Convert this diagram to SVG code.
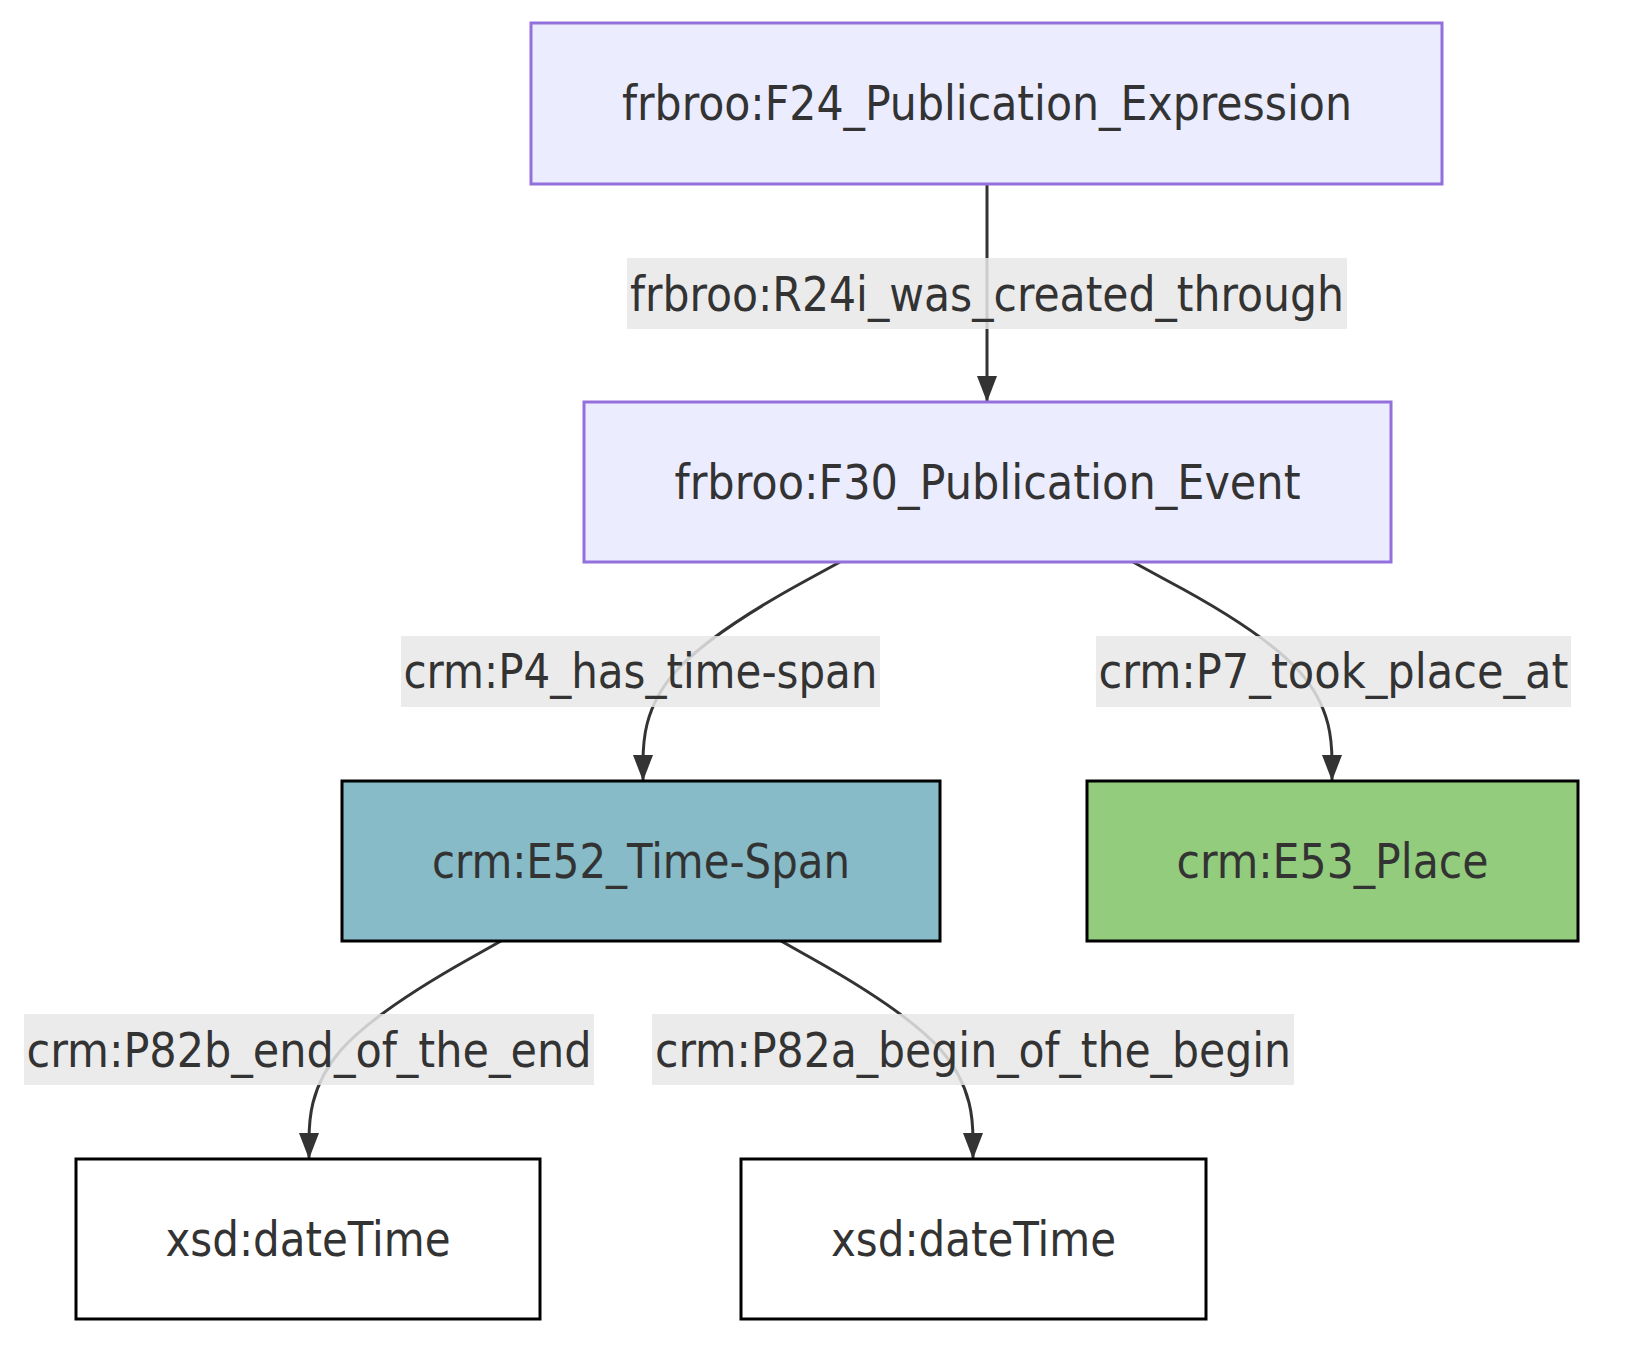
<svg xmlns="http://www.w3.org/2000/svg" width="1626" height="1362" viewBox="0 0 1626 1362">
<style>
text{font-family:"DejaVu Sans","Liberation Sans",sans-serif;font-size:48px;fill:#333333;text-anchor:middle;dominant-baseline:central;font-stretch:condensed}
.n rect{stroke-width:3}
.p rect{fill:#ECECFF;stroke:#9370DB}
.k rect{stroke:#000000}
.e path{fill:none;stroke:#333333;stroke-width:3}
.lb{fill:#e8e8e8;fill-opacity:0.85}
</style>
<defs>
<marker id="ah" markerUnits="userSpaceOnUse" markerWidth="26" markerHeight="20" refX="26" refY="10" orient="auto" viewBox="0 0 26 20">
<path d="M0,0 L26,10 L0,20 z" fill="#333333"/>
</marker>
</defs>
<rect width="1626" height="1362" fill="#ffffff"/>
<g id="edges" class="e">
<path d="M987,184 L987,402" marker-end="url(#ah)"/>
<path d="M840,562 L807,580 C774,598 709,635 676,671 C643,708 643,744 643,763 L643,781" marker-end="url(#ah)"/>
<path d="M1133,562 L1166,580 C1200,598 1266,635 1299,671 C1332,708 1332,744 1332,763 L1332,781" marker-end="url(#ah)"/>
<path d="M501,941 L469,959 C437,977 373,1014 341,1050 C309,1087 309,1123 309,1141 L309,1159" marker-end="url(#ah)"/>
<path d="M781,941 L813,959 C845,977 909,1014 941,1050 C973,1087 973,1123 973,1141 L973,1159" marker-end="url(#ah)"/>
</g>
<g id="edge-labels">
<g id="lbl-r24i"><rect class="lb" x="627" y="258" width="720" height="71"/><text x="987" y="293.5" textLength="714" lengthAdjust="spacingAndGlyphs">frbroo:R24i_was_created_through</text></g>
<g id="lbl-p4"><rect class="lb" x="401" y="636" width="479" height="71"/><text x="640.5" y="671" textLength="474" lengthAdjust="spacingAndGlyphs">crm:P4_has_time-span</text></g>
<g id="lbl-p7"><rect class="lb" x="1096" y="636" width="475" height="71"/><text x="1333.5" y="671" textLength="470" lengthAdjust="spacingAndGlyphs">crm:P7_took_place_at</text></g>
<g id="lbl-p82b"><rect class="lb" x="24" y="1014" width="570" height="71"/><text x="309" y="1049.5" textLength="565" lengthAdjust="spacingAndGlyphs">crm:P82b_end_of_the_end</text></g>
<g id="lbl-p82a"><rect class="lb" x="652" y="1014" width="642" height="71"/><text x="973" y="1049.5" textLength="636" lengthAdjust="spacingAndGlyphs">crm:P82a_begin_of_the_begin</text></g>
</g>
<g id="node-f24" class="n p"><rect x="531" y="23" width="911" height="161"/><text x="987" y="103" textLength="730" lengthAdjust="spacingAndGlyphs">frbroo:F24_Publication_Expression</text></g>
<g id="node-f30" class="n p"><rect x="584" y="402" width="807" height="160"/><text x="987.5" y="482" textLength="626" lengthAdjust="spacingAndGlyphs">frbroo:F30_Publication_Event</text></g>
<g id="node-e52" class="n k"><rect x="342" y="781" width="598" height="160" fill="#86BBC7"/><text x="641" y="861" textLength="418" lengthAdjust="spacingAndGlyphs">crm:E52_Time-Span</text></g>
<g id="node-e53" class="n k"><rect x="1087" y="781" width="491" height="160" fill="#94CC7E"/><text x="1332.5" y="861" textLength="312" lengthAdjust="spacingAndGlyphs">crm:E53_Place</text></g>
<g id="node-xsd1" class="n k"><rect x="76" y="1159" width="464" height="160" fill="#ffffff"/><text x="308" y="1239" textLength="285" lengthAdjust="spacingAndGlyphs">xsd:dateTime</text></g>
<g id="node-xsd2" class="n k"><rect x="741" y="1159" width="465" height="160" fill="#ffffff"/><text x="973.5" y="1239" textLength="285" lengthAdjust="spacingAndGlyphs">xsd:dateTime</text></g>
</svg>
